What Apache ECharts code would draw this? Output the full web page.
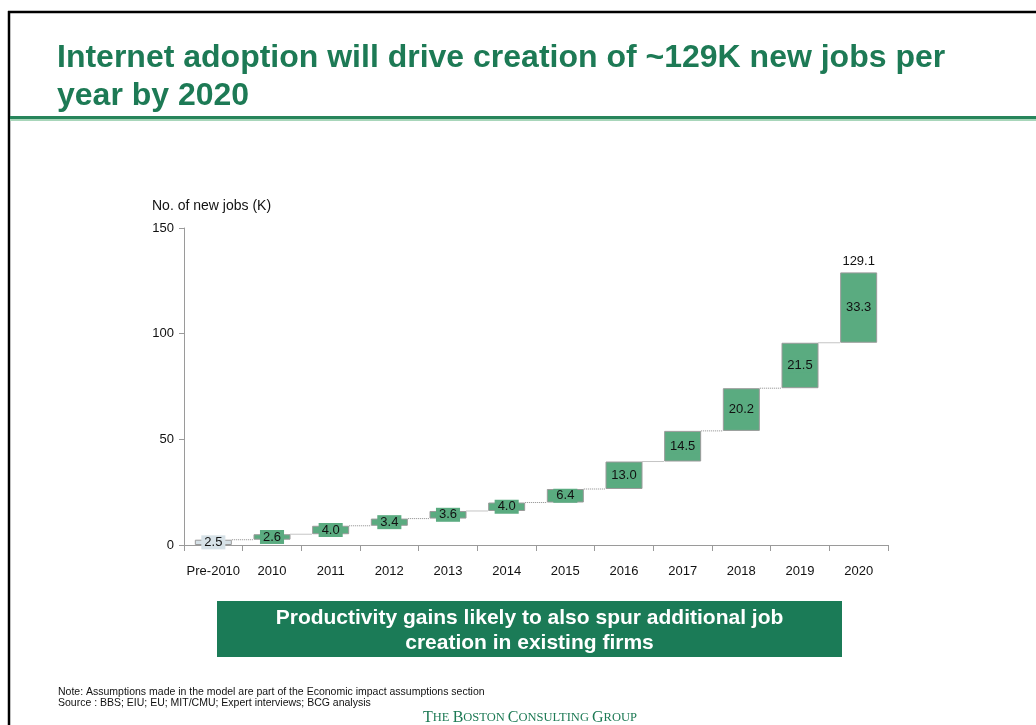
<!DOCTYPE html>
<html>
<head>
<meta charset="utf-8">
<script src="https://cdn.jsdelivr.net/npm/echarts@6/dist/echarts.min.js"></script>
<style>
  html, body { margin: 0; padding: 0; background: #fff; }
  #chart { width: 1036px; height: 725px; }
</style>
</head>
<body>
<div id="chart"></div>
<script>
// Waterfall of new jobs (K) created per year
const categories = ['Pre-2010', '2010', '2011', '2012', '2013', '2014', '2015', '2016', '2017', '2018', '2019', '2020'];
const increments = [2.5, 2.6, 4.0, 3.4, 3.6, 4.0, 6.4, 13.0, 14.5, 20.2, 21.5, 33.3];
const totalLabel = 129.1;
const yTicks = [0, 50, 100, 150];

const GREEN_BAR = '#5aab80';
const BASE_BAR = '#d6e1e7';
const TITLE_GREEN = '#1d7a55';

// running totals: the invisible base under each step, and the top of each step
const bases = [];
const tops = [];
let run = 0;
increments.forEach(v => {
  bases.push(+run.toFixed(1));
  run += v;
  tops.push(+run.toFixed(1));
});

const BAR_W = 37;

const chart = echarts.init(document.getElementById('chart'), null, { renderer: 'canvas' });

const option = {
  animation: false,
  backgroundColor: '#fff',
  textStyle: { fontFamily: 'Liberation Sans, Arial, sans-serif' },
  grid: { left: 184, right: 148, top: 228, bottom: 180 },
  xAxis: {
    type: 'category',
    data: categories,
    boundaryGap: true,
    axisLine: { lineStyle: { color: '#9a9a9a', width: 1 } },
    axisTick: { show: true, length: 6, lineStyle: { color: '#9a9a9a' } },
    axisLabel: { color: '#111', fontSize: 13, margin: 20, interval: 0 }
  },
  yAxis: {
    type: 'value',
    min: yTicks[0],
    max: yTicks[yTicks.length - 1],
    interval: 50,
    name: 'No. of new jobs (K)',
    nameLocation: 'end',
    nameGap: 15,
    nameTextStyle: { color: '#111', fontSize: 14, align: 'left', padding: [0, 0, 0, -32] },
    axisLine: { show: true, lineStyle: { color: '#9a9a9a' } },
    axisTick: { show: true, length: 5, lineStyle: { color: '#9a9a9a' } },
    axisLabel: { color: '#111', fontSize: 13, margin: 10 },
    splitLine: { show: false }
  },
  series: [
    {
      name: 'base',
      type: 'bar',
      stack: 'w',
      barWidth: BAR_W,
      silent: true,
      itemStyle: { color: 'transparent' },
      data: bases
    },
    {
      name: 'jobs',
      type: 'bar',
      stack: 'w',
      barWidth: BAR_W,
      z: 3,
      data: increments.map((v, i) => ({
        value: v,
        itemStyle: {
          color: i === 0 ? BASE_BAR : GREEN_BAR,
          borderColor: '#9a9a9a',
          borderWidth: 1
        },
        label: { backgroundColor: i === 0 ? BASE_BAR : GREEN_BAR }
      })),
      label: {
        show: true,
        position: 'inside',
        color: '#111',
        fontSize: 13,
        padding: [1, 3, 0, 3],
        formatter: p => p.value.toFixed(1)
      }
    },
    {
      // dotted connectors from the top of one step to the next bar
      name: 'connector',
      type: 'custom',
      silent: true,
      z: 2,
      data: tops.slice(0, -1).map((t, i) => [i, t]),
      renderItem: function (params, api) {
        const i = api.value(0);
        const t = api.value(1);
        const p1 = api.coord([i, t]);
        const p2 = api.coord([i + 1, t]);
        return {
          type: 'line',
          shape: { x1: p1[0] + BAR_W / 2, y1: p1[1], x2: p2[0] - BAR_W / 2, y2: p2[1] },
          style: { stroke: '#8a8a8a', lineWidth: 1, lineDash: [1, 1] }
        };
      }
    },
    {
      // cumulative total over the final bar
      name: 'total',
      type: 'scatter',
      symbolSize: 0,
      silent: true,
      itemStyle: { color: '#111', opacity: 1 },
      data: [[categories.length - 1, totalLabel]],
      label: {
        show: true,
        position: 'top',
        distance: 4,
        color: '#111',
        opacity: 1,
        fontSize: 13,
        formatter: p => p.value[1].toFixed(1)
      }
    }
  ],
  graphic: [
    // page frame
    { type: 'line', shape: { x1: 8, y1: 12, x2: 1036, y2: 12 }, style: { stroke: '#000', lineWidth: 2.5 } },
    { type: 'line', shape: { x1: 9, y1: 11, x2: 9, y2: 725 }, style: { stroke: '#000', lineWidth: 2.5 } },
    // headline
    {
      type: 'text', left: 57, top: 39,
      style: {
        text: 'Internet adoption will drive creation of ~129K new jobs per\nyear by 2020',
        fill: TITLE_GREEN, font: 'bold 32px "Liberation Sans", Arial, sans-serif', lineHeight: 38
      }
    },
    // rule under the headline
    { type: 'rect', shape: { x: 10, y: 116, width: 1026, height: 3 }, style: { fill: '#27855b' } },
    { type: 'rect', shape: { x: 10, y: 119, width: 1026, height: 2 }, style: { fill: '#a8d6ba' } },
    // takeaway box
    { type: 'rect', shape: { x: 217, y: 601, width: 625, height: 56 }, style: { fill: '#1b7b57' } },
    {
      type: 'text', x: 529.5, y: 631,
      style: {
        text: 'Productivity gains likely to also spur additional job\ncreation in existing firms',
        fill: '#fff', font: 'bold 21px "Liberation Sans", Arial, sans-serif', lineHeight: 25,
        align: 'center', verticalAlign: 'middle'
      }
    },
    // footnotes
    {
      type: 'text', left: 58, top: 687,
      style: {
        text: 'Note: Assumptions made in the model are part of the Economic impact assumptions section\nSource : BBS; EIU; EU; MIT/CMU; Expert interviews; BCG analysis',
        fill: '#111', font: '10.5px "Liberation Sans", Arial, sans-serif', lineHeight: 11
      }
    },
    // firm name in small capitals
    {
      type: 'text', x: 530, y: 718,
      style: {
        text: '{b|T}{s|HE }{b|B}{s|OSTON }{b|C}{s|ONSULTING }{b|G}{s|ROUP}',
        align: 'center', verticalAlign: 'middle',
        rich: {
          b: { fill: '#1d7a55', fontSize: 16, fontFamily: 'Liberation Serif, serif' },
          s: { fill: '#1d7a55', fontSize: 12.5, fontFamily: 'Liberation Serif, serif' }
        }
      }
    }
  ]
};

chart.setOption(option);
</script>
</body>
</html>
